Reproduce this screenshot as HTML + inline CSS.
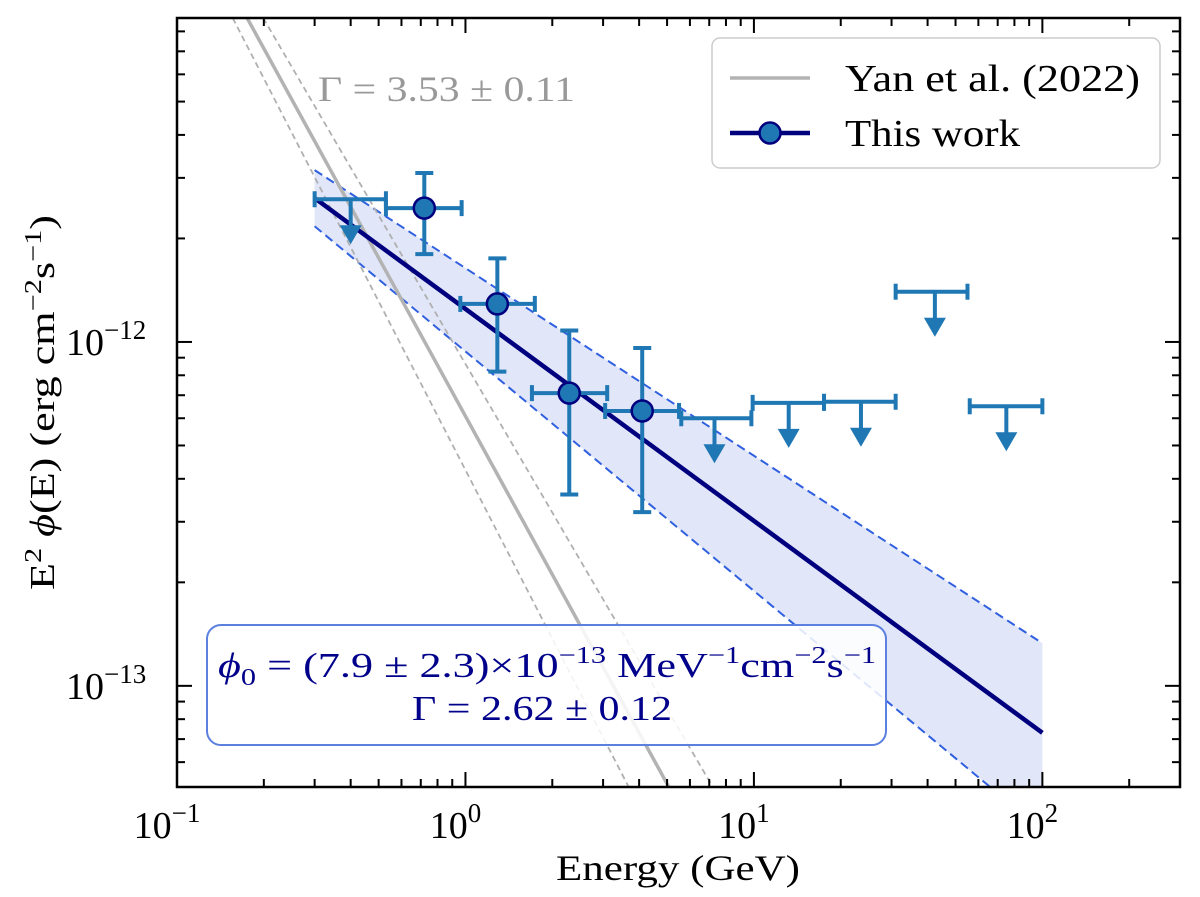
<!DOCTYPE html>
<html><head><meta charset="utf-8">
<style>
html,body{margin:0;padding:0;background:#fff;}
svg{display:block;font-family:"Liberation Serif","DejaVu Serif",serif;}
</style></head>
<body>
<svg id="chart" width="1200" height="897" viewBox="0 0 1200 897" xmlns="http://www.w3.org/2000/svg"></svg>
<script>
// ---- data ----
const pointE = [0.72, 1.29, 2.29, 4.1];
const pointF = [2.45e-12, 1.29e-12, 0.71e-12, 0.63e-12];
const pointFhi = [3.1e-12, 1.75e-12, 1.08e-12, 0.96e-12];
const pointFlo = [1.8e-12, 0.82e-12, 0.36e-12, 0.32e-12];
const pointElo = [0.53, 0.96, 1.7, 3.05];
const pointEhi = [0.97, 1.74, 3.1, 5.5];
const ulE = [0.4, 7.3, 13.2, 23.5, 42.4, 75];
const ulElo = [0.3, 5.6, 9.9, 17.5, 31, 56];
const ulEhi = [0.53, 9.8, 17.5, 31, 55, 100];
const ulF = [2.6e-12, 0.60e-12, 0.665e-12, 0.67e-12, 1.40e-12, 0.65e-12];
const fitE = [0.3, 100];
const fitF = [2.62e-12, 7.3e-14];
const bandHiF = [3.16e-12, 1.33e-13];
const bandLoF = [2.17e-12, 3.8e-14];
const yanE = [0.175, 5.07];
const yanF = [8.75e-12, 5.08e-14];
const yanLoE = [0.156, 3.68];
const yanHiE = [0.199, 7.2];
const xTicks = [0.1, 1, 10, 100];
const xTickExp = ["−1", "0", "1", "2"];
const yTicks = [1e-13, 1e-12];
const yTickExp = ["−13", "−12"];

// ---- axes ----
const L=177, R=1180, T=18, B=787;
const xmin=Math.log10(0.1), xmax=Math.log10(300);
const ymin=Math.log10(5.08e-14), ymax=Math.log10(8.75e-12);
const X=e=>L+(Math.log10(e)-xmin)/(xmax-xmin)*(R-L);
const Y=f=>B-(Math.log10(f)-ymin)/(ymax-ymin)*(B-T);
const svg=document.getElementById('chart');
const NS='http://www.w3.org/2000/svg';
function mk(tag,attrs,parent){const el=document.createElementNS(NS,tag);for(const k in attrs)el.setAttribute(k,attrs[k]);(parent||svg).appendChild(el);return el;}

const defs=mk('defs',{});
const cp=mk('clipPath',{id:'clip'},defs);
mk('rect',{x:L,y:T,width:R-L,height:B-T},cp);
const plot=mk('g',{'clip-path':'url(#clip)'});



const band=mk('polygon',{points:`${X(fitE[0])},${Y(bandHiF[0])} ${X(fitE[1])},${Y(bandHiF[1])} ${X(fitE[1])},${Y(bandLoF[1])} ${X(fitE[0])},${Y(bandLoF[0])}`,fill:'#e1e6f8'},plot);


[bandHiF,bandLoF].forEach((b,i)=>{
  const l=mk('line',{x1:X(fitE[0]),y1:Y(b[0]),x2:X(fitE[1]),y2:Y(b[1]),stroke:'#3060e0','stroke-width':2,'stroke-dasharray':'9,5'},plot);
  
  
});
[[yanLoE,'yan-lower-dashed'],[yanHiE,'yan-upper-dashed']].forEach(([e,n])=>{
  const l=mk('line',{x1:X(e[0]),y1:Y(yanF[0]),x2:X(e[1]),y2:Y(yanF[1]),stroke:'#b0b0b0','stroke-width':1.8,'stroke-dasharray':'6,4'},plot);
  
  
});
const yl=mk('line',{x1:X(yanE[0]),y1:Y(yanF[0]),x2:X(yanE[1]),y2:Y(yanF[1]),stroke:'#b3b3b3','stroke-width':3.5},plot);


const fl=mk('line',{x1:X(fitE[0]),y1:Y(fitF[0]),x2:X(fitE[1]),y2:Y(fitF[1]),stroke:'#00007f','stroke-width':4.5},plot);



const C='#1f77b4';
ulE.forEach((e,i)=>{
  const g=mk('g',{stroke:C,'stroke-width':4,fill:C},plot);
  
  
  const y=Y(ulF[i]),x=X(e);
  mk('line',{x1:X(ulElo[i]),y1:y,x2:X(ulEhi[i]),y2:y},g);
  mk('line',{x1:X(ulElo[i]),y1:y-8,x2:X(ulElo[i]),y2:y+8},g);
  mk('line',{x1:X(ulEhi[i]),y1:y-8,x2:X(ulEhi[i]),y2:y+8},g);
  mk('line',{x1:x,y1:y,x2:x,y2:y+28},g);
  mk('polygon',{points:`${x-11},${y+26} ${x+11},${y+26} ${x},${y+45}`,stroke:'none'},g);
});
pointE.forEach((e,i)=>{
  const g=mk('g',{stroke:C,'stroke-width':4},plot);
  
  
  const x=X(e),y=Y(pointF[i]);
  mk('line',{x1:X(pointElo[i]),y1:y,x2:X(pointEhi[i]),y2:y},g);
  mk('line',{x1:X(pointElo[i]),y1:y-8,x2:X(pointElo[i]),y2:y+8},g);
  mk('line',{x1:X(pointEhi[i]),y1:y-8,x2:X(pointEhi[i]),y2:y+8},g);
  mk('line',{x1:x,y1:Y(pointFhi[i]),x2:x,y2:Y(pointFlo[i])},g);
  mk('line',{x1:x-9,y1:Y(pointFhi[i]),x2:x+9,y2:Y(pointFhi[i])},g);
  mk('line',{x1:x-9,y1:Y(pointFlo[i]),x2:x+9,y2:Y(pointFlo[i])},g);
  mk('circle',{cx:x,cy:y,r:10.5,fill:C,stroke:'#00007f','stroke-width':2.5},g);
});

const ax=mk('g',{stroke:'#000','stroke-width':2});


for(let d=-1;d<=2;d++)for(let m=1;m<10;m++){const e=m*Math.pow(10,d);if(e>300)continue;const x=X(e);const len=m===1?15:8;
  mk('line',{x1:x,y1:B,x2:x,y2:B-len},ax);mk('line',{x1:x,y1:T,x2:x,y2:T+len},ax);}
for(let d=-14;d<=-12;d++)for(let m=1;m<10;m++){const f=m*Math.pow(10,d);if(f<5.08e-14||f>8.75e-12)continue;const y=Y(f);const len=m===1?15:8;
  mk('line',{x1:L,y1:y,x2:L+len,y2:y},ax);mk('line',{x1:R,y1:y,x2:R-len,y2:y},ax);}
const frame=mk('rect',{x:L,y:T,width:R-L,height:B-T,fill:'none',stroke:'#000','stroke-width':2.5});



xTicks.forEach((e,i)=>{
  const t=mk('text',{x:X(e)-10,y:838,'font-size':38,'text-anchor':'middle'});
  
  
  t.innerHTML=`10<tspan dy="-16" font-size="27">${xTickExp[i]}</tspan>`;
});
yTicks.forEach((f,i)=>{
  const t=mk('text',{x:66,y:Y(f)+13,'font-size':38});
  
  
  t.innerHTML=`10<tspan dy="-16" font-size="27">${yTickExp[i]}</tspan>`;
});
</script>
<svg style="position:absolute;left:0;top:0" width="1200" height="897" xmlns="http://www.w3.org/2000/svg" font-family="Liberation Serif, DejaVu Serif, serif">
  <text x="556" y="880" font-size="36" textLength="244" lengthAdjust="spacingAndGlyphs">Energy (GeV)</text>
  <text transform="translate(54,590) rotate(-90)" font-size="35" textLength="375" lengthAdjust="spacingAndGlyphs">E<tspan dy="-13" font-size="24">2</tspan><tspan dy="13"> <tspan font-style="italic">ϕ</tspan>(E) (erg cm</tspan><tspan dy="-13" font-size="24">−2</tspan><tspan dy="13">s</tspan><tspan dy="-13" font-size="24">−1</tspan><tspan dy="13">)</tspan></text>
  <text x="318" y="101" font-size="36" fill="#999" textLength="257" lengthAdjust="spacingAndGlyphs">Γ = 3.53 ± 0.11</text>
  <g>
    <rect x="712" y="38" width="448" height="130" rx="8" fill="#fff" fill-opacity="0.85" stroke="#ccc" stroke-width="1.5"/>
    <line x1="730" y1="78" x2="810" y2="78" stroke="#b3b3b3" stroke-width="3.5"/>
    <text x="845" y="91" font-size="38" textLength="295" lengthAdjust="spacingAndGlyphs">Yan et al. (2022)</text>
    <line x1="730" y1="133" x2="810" y2="133" stroke="#00007f" stroke-width="4.5"/>
    <circle cx="770" cy="133" r="10.5" fill="#1f77b4" stroke="#00007f" stroke-width="2.5"/>
    <text x="845" y="146" font-size="38" textLength="175" lengthAdjust="spacingAndGlyphs">This work</text>
  </g>
  <g>
    <rect x="207" y="625" width="679" height="120" rx="14" fill="#fff" fill-opacity="0.85" stroke="#5b80e0" stroke-width="2"/>
    <text x="218" y="677" font-size="35" fill="#00008b" textLength="658" lengthAdjust="spacingAndGlyphs"><tspan font-style="italic">ϕ</tspan><tspan font-size="24" dy="8">0</tspan><tspan dy="-8"> = (7.9 ± 2.3)×10</tspan><tspan font-size="24" dy="-14">−13</tspan><tspan dy="14"> MeV</tspan><tspan font-size="24" dy="-14">−1</tspan><tspan dy="14">cm</tspan><tspan font-size="24" dy="-14">−2</tspan><tspan dy="14">s</tspan><tspan font-size="24" dy="-14">−1</tspan></text>
    <text x="412" y="720" font-size="35" fill="#00008b" textLength="260" lengthAdjust="spacingAndGlyphs">Γ = 2.62 ± 0.12</text>
  </g>
</svg>
</body></html>
